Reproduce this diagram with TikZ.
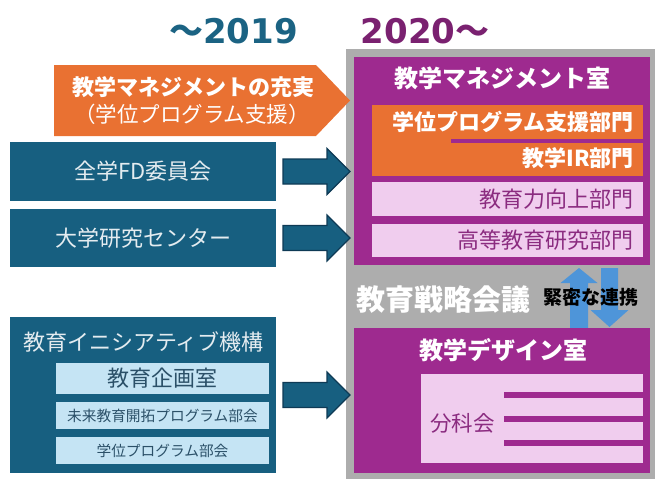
\documentclass[tikz,border=0pt]{standalone}
\usepackage{fontspec}
\setmainfont{Noto Sans CJK JP}
\newfontfamily\yrfont{DejaVu Sans}
\usetikzlibrary{calc}
\definecolor{teal1}{HTML}{175F80}
\definecolor{tealdark}{HTML}{0E3A55}
\definecolor{orange1}{HTML}{E97132}
\definecolor{purple1}{HTML}{9E2A8F}
\definecolor{pink1}{HTML}{F0CDEE}
\definecolor{gray1}{HTML}{ADADAD}
\definecolor{yrteal}{HTML}{1B6383}
\definecolor{yrpurple}{HTML}{7A2170}
\definecolor{lblue}{HTML}{C5E4F4}
\definecolor{bluearr}{HTML}{4E95D9}
\definecolor{ptext}{HTML}{8B2C80}
\definecolor{ltext}{HTML}{E4ECF0}
\definecolor{btext}{HTML}{2B5068}
\begin{document}
\begin{tikzpicture}[x=1pt,y=-1pt,
  rbox/.style={anchor=north west,inner sep=0pt,outer sep=0pt,draw=none},
  tbox/.style={rbox,fill=teal1,text=ltext,font=\fontsize{22}{24}\selectfont},
  lbbox/.style={rbox,fill=lblue,text=btext},
  wtitle/.style={inner sep=0pt,text=white,font=\bfseries\fontsize{24}{27}\selectfont},
  rtext/.style={inner sep=0pt,anchor=east,font=\fontsize{22}{24}\selectfont},
  arrowline/.style={fill=teal1,draw=tealdark,line width=1.1pt,line join=miter},
  barrow/.pic={\draw[arrowline] (0,-12.5) -- (44,-12.5) -- (44,-23) -- (67,0) -- (44,23) -- (44,12.5) -- (0,12.5) -- cycle;},
  uparr/.pic={\fill[bluearr] (-9,0) -- (-9,-45) -- (-18.5,-45) -- (0,-60) -- (18.5,-45) -- (9,-45) -- (9,0) -- cycle;},
  dnarr/.pic={\fill[bluearr] (-8.5,0) -- (-8.5,42) -- (-19,42) -- (0,59) -- (19,42) -- (8.5,42) -- (8.5,0) -- cycle;}
]
\useasboundingbox (0,0) rectangle (655,479);
% years
\node[inner sep=0pt,text=yrteal] (y1) at (233.5,31) {\fontsize{34}{36}\selectfont\bfseries 〜{\yrfont\bfseries 2019}};
\node[inner sep=0pt,text=yrpurple] (y2) at (425,31) {\fontsize{34}{36}\selectfont\bfseries{\yrfont\bfseries 2020}〜};
% gray frame
\node[rbox,fill=gray1,minimum width=309pt,minimum height=430pt] (frame) at (346,49) {};
% top purple box
\node[rbox,fill=purple1,minimum width=296pt,minimum height=208pt] (mgmt) at (354,57) {};
\node[wtitle] (mgmtt) at (502,78) {教学マネジメント室};
\node[rbox,fill=orange1,minimum width=271pt,minimum height=71pt] (orng) at (372,105) {};
\fill[purple1] (451,139) rectangle (643,143);
\node[rtext,text=white,font=\bfseries\fontsize{22}{24}\selectfont] (gakui) at (634,122) {学位プログラム支援部門};
\node[rtext,text=white,font=\bfseries\fontsize{22}{24}\selectfont] (ir) at (634,158) {教学IR部門};
\node[rbox,fill=pink1,minimum width=271pt,minimum height=34pt] (p1) at (372,182) {};
\node[rtext,text=ptext] (p1t) at (634,199) {教育力向上部門};
\node[rbox,fill=pink1,minimum width=271pt,minimum height=33pt] (p2) at (372,224) {};
\node[rtext,text=ptext] (p2t) at (634,240.5) {高等教育研究部門};
% strategy
\pic at (579,328) {uparr};
\pic at (609.5,268) {dnarr};
\node[inner sep=0pt,anchor=west,text=white,font=\bfseries\fontsize{29}{32}\selectfont] (senryaku) at (356,300) {教育戦略会議};
\node[inner sep=0pt,anchor=west,text=black,font=\bfseries\fontsize{19}{22}\selectfont] (renkei) at (543,297) {緊密な連携};
% design box
\node[rbox,fill=purple1,minimum width=296pt,minimum height=145pt] (design) at (354,328) {};
\node[wtitle] (designt) at (503,350) {教学デザイン室};
\node[rbox,fill=pink1,minimum width=222pt,minimum height=89pt] (bunka) at (421,374) {};
\fill[purple1] (504,392) rectangle (643,398);
\fill[purple1] (504,416) rectangle (643,422);
\fill[purple1] (504,439.5) rectangle (643,445.5);
\node[inner sep=0pt,anchor=west,text=ptext,font=\fontsize{21.5}{24}\selectfont] (bunkat) at (430,423) {分科会};
% left side
\fill[orange1] (54,65) -- (316,65) -- (350,100.5) -- (316,136) -- (54,136) -- cycle;
\node[inner sep=0pt,text=white,font=\bfseries\fontsize{22}{25}\selectfont] (jujitsu) at (193,87) {教学マネジメントの充実};
\node[inner sep=0pt,text=white,font=\fontsize{21.5}{24}\selectfont] (jujitsu2) at (192,114) {（学位プログラム支援）};
\node[tbox,minimum width=266pt,minimum height=59pt] (fd) at (10,142) {全学FD委員会};
\node[tbox,minimum width=266pt,minimum height=58pt] (center) at (10,209) {大学研究センター};
\node[rbox,fill=teal1,minimum width=266pt,minimum height=156pt] (init) at (10,317) {};
\node[inner sep=0pt,text=ltext,font=\fontsize{22}{24}\selectfont] (initt) at (143.5,342) {教育イニシアティブ機構};
\node[lbbox,minimum width=213pt,minimum height=31pt,font=\fontsize{22}{24}\selectfont] (kikaku) at (56,363) {教育企画室};
\node[lbbox,minimum width=213pt,minimum height=27pt,font=\fontsize{14.7}{17}\selectfont] (mirai) at (56,402) {未来教育開拓プログラム部会};
\node[lbbox,minimum width=213pt,minimum height=27pt,font=\fontsize{14.7}{17}\selectfont] (gakuibu) at (56,437) {学位プログラム部会};
% block arrows
\pic at ($(fd.east)+(7,0)$) {barrow};
\pic at ($(center.east)+(7,0)$) {barrow};
\pic at ($(init.east)+(7,0)$) {barrow};
\end{tikzpicture}
\end{document}
